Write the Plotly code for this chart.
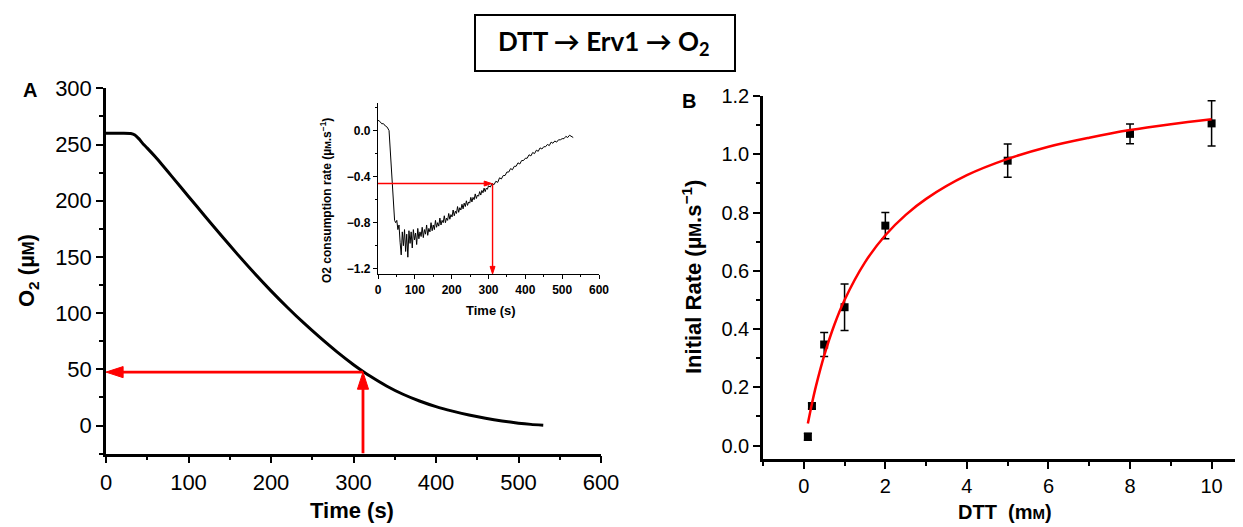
import plotly.graph_objects as go

# The page body has an 8px margin, so the figure is drawn 8px in from the top-left corner.
OFF = 8
W, H = 1243 - OFF, 527 - OFF

# ---------------- Panel A: O2 trace ----------------
time_a = [0, 10, 20, 30, 35, 40, 45, 50, 60, 80, 100, 120, 140, 160, 180, 200, 220, 240,
          260, 280, 300, 312, 320, 340, 360, 380, 400, 420, 440, 460, 480, 500, 515, 530]
o2_a = [260, 260, 260, 259.8, 258.5, 255, 250.5, 246.8, 238.8, 221.4, 203.8, 186.2, 168.8,
        151.8, 135.4, 119.8, 105, 91, 77.9, 65.5, 54.1, 47.9, 44, 35.2, 27.8, 21.8, 16.8,
        12.8, 9.3, 6.4, 4.0, 2.1, 1.0, 0.2]
a_xticks = [0, 100, 200, 300, 400, 500, 600]
a_yticks = [0, 50, 100, 150, 200, 250, 300]
t_mark, o2_mark = 311.5, 47.5

# ---------------- Inset: O2 consumption rate ----------------
time_inset = list(range(0, 46, 5)) + list(range(48, 301, 3)) + list(range(305, 531, 5))
rate_inset = [
    # 0 - 45 s
    0.09, 0.08, 0.06, 0.06, 0.04, 0.03, 0.00, -0.30, -0.55, -0.78,
    # 48 - 300 s
    -0.80, -0.78, -0.86, -0.82, -0.97, -1.08, -0.88, -1.00, -0.86, -1.05,
    -0.90, -1.10, -0.87, -0.98, -0.88, -1.02, -0.86, -0.95, -0.89, -0.99,
    -0.85, -0.94, -0.88, -0.92, -0.84, -0.93, -0.86, -0.90, -0.82, -0.91,
    -0.85, -0.88, -0.80, -0.87, -0.82, -0.86, -0.78, -0.84, -0.80, -0.83,
    -0.76, -0.82, -0.78, -0.80, -0.74, -0.80, -0.76, -0.78, -0.72, -0.77,
    -0.73, -0.75, -0.69, -0.74, -0.70, -0.72, -0.66, -0.71, -0.67, -0.69,
    -0.64, -0.68, -0.63, -0.66, -0.61, -0.65, -0.62, -0.63, -0.58, -0.62,
    -0.58, -0.60, -0.55, -0.59, -0.56, -0.57, -0.53, -0.56, -0.52, -0.54,
    -0.50, -0.53, -0.50, -0.51, -0.48,
    # 305 - 530 s
    -0.49, -0.46, -0.47, -0.44, -0.45, -0.41, -0.42, -0.39, -0.39, -0.36,
    -0.36, -0.33, -0.34, -0.31, -0.31, -0.28, -0.29, -0.26, -0.26, -0.24,
    -0.24, -0.21, -0.22, -0.19, -0.20, -0.17, -0.18, -0.15, -0.16, -0.14,
    -0.14, -0.12, -0.13, -0.10, -0.11, -0.09, -0.10, -0.08, -0.08, -0.07,
    -0.07, -0.05, -0.06, -0.04, -0.05, -0.06]
inset_mark_t, inset_mark_rate = 311, -0.46
inset_ymin = -1.246

# ---------------- Panel B: initial rate vs DTT ----------------
dtt = [0.1, 0.2, 0.5, 1, 2, 5, 8, 10]
rate_b = [0.03, 0.136, 0.347, 0.475, 0.755, 0.978, 1.07, 1.106]
err_b = [0.012, 0.01, 0.041, 0.08, 0.045, 0.057, 0.034, 0.078]
fit_x = [0.1, 0.2, 0.3, 0.5, 0.75, 1, 1.5, 2, 2.5, 3, 4, 5, 6, 7, 8, 9, 10]
fit_y = [0.076, 0.144, 0.205, 0.309, 0.415, 0.500, 0.629, 0.722, 0.792, 0.847, 0.928,
         0.984, 1.026, 1.057, 1.083, 1.103, 1.120]

FONT = "Liberation Sans"

def px_x(p):
    return (p - OFF) / W

def px_y(p):
    return 1 - (p - OFF) / H

fig = go.Figure()

fig.add_trace(go.Scatter(x=time_a, y=o2_a, mode="lines", xaxis="x", yaxis="y",
                         line=dict(color="black", width=3.0, shape="spline", smoothing=0.6),
                         showlegend=False))
fig.add_trace(go.Scatter(x=time_inset, y=rate_inset, mode="lines", xaxis="x2", yaxis="y2",
                         line=dict(color="black", width=1), showlegend=False))
fig.add_trace(go.Scatter(x=dtt, y=rate_b, mode="markers", xaxis="x3", yaxis="y3",
                         marker=dict(symbol="square", size=8, color="black"),
                         error_y=dict(type="data", array=err_b, color="black",
                                      thickness=1.5, width=4),
                         showlegend=False))
fig.add_trace(go.Scatter(x=fit_x, y=fit_y, mode="lines", xaxis="x3", yaxis="y3",
                         line=dict(color="red", width=2.5, shape="spline"),
                         showlegend=False))

# red arrows drawn as line traces with arrow markers at the head
def arrow_trace(xs, ys, xa, ya, width, size):
    return go.Scatter(x=xs, y=ys, mode="lines+markers", xaxis=xa, yaxis=ya,
                      line=dict(color="red", width=width),
                      marker=dict(symbol=["circle", "arrow"], size=[0, size], color="red",
                                  opacity=1, angleref="previous",
                                  line=dict(width=1, color="red")),
                      showlegend=False, hoverinfo="skip")

fig.add_trace(arrow_trace([t_mark, 0], [o2_mark, o2_mark], "x", "y", 2.8, 18))
fig.add_trace(arrow_trace([t_mark, t_mark], [-25, o2_mark], "x", "y", 2.8, 18))
fig.add_trace(arrow_trace([0, inset_mark_t - 2], [inset_mark_rate, inset_mark_rate], "x2", "y2", 1.4, 8))
fig.add_trace(arrow_trace([inset_mark_t, inset_mark_t], [inset_mark_rate, inset_ymin], "x2", "y2", 1.4, 8))

def ax_common(lw=2.5, tl=7, tw=2, fs=22, bold=False):
    return dict(showline=True, linecolor="black", linewidth=lw, showgrid=False,
                zeroline=False, ticks="outside", ticklen=tl, tickwidth=tw,
                tickcolor="black", mirror=False, automargin=False,
                tickfont=dict(family=FONT, size=fs, color="black",
                              weight="bold" if bold else "normal"))

fig.update_layout(
    width=W, height=H, margin=dict(l=0, r=0, t=0, b=0, autoexpand=False),
    paper_bgcolor="white", plot_bgcolor="rgba(0,0,0,0)",
    xaxis=dict(domain=[px_x(106), px_x(601)], range=[0, 600], anchor="y",
               tickvals=a_xticks,
               minor=dict(ticks="outside", ticklen=4, tickwidth=2, dtick=50, tick0=0,
                          tickcolor="black"),
               **ax_common(fs=22)),
    yaxis=dict(domain=[px_y(453.6), px_y(88.3)], range=[-25, 300], anchor="x",
               tickvals=a_yticks,
               minor=dict(ticks="outside", ticklen=4, tickwidth=2, dtick=25, tick0=0,
                          tickcolor="black"),
               **ax_common(fs=22)),
    xaxis2=dict(domain=[px_x(378), px_x(599)], range=[0, 600], anchor="y2",
                tickvals=[0, 100, 200, 300, 400, 500, 600],
                minor=dict(ticks="outside", ticklen=2, tickwidth=1, dtick=50, tick0=0,
                           tickcolor="black"),
                **ax_common(lw=1.3, tl=4, tw=1.3, fs=12, bold=True)),
    yaxis2=dict(domain=[px_y(274), px_y(103)], range=[inset_ymin, 0.24], anchor="x2",
                tickvals=[0.0, -0.4, -0.8, -1.2], tickformat=".1f",
                minor=dict(ticks="outside", ticklen=2, tickwidth=1, dtick=0.2, tick0=0,
                           tickcolor="black"),
                **ax_common(lw=1.3, tl=4, tw=1.3, fs=12, bold=True)),
    xaxis3=dict(domain=[px_x(763), 1.0], range=[-1, 10.77], anchor="y3",
                tickvals=[0, 2, 4, 6, 8, 10],
                minor=dict(ticks="outside", ticklen=4, tickwidth=2, dtick=1, tick0=0,
                           tickcolor="black"),
                **ax_common(fs=20)),
    yaxis3=dict(domain=[px_y(459), px_y(96)], range=[-0.046, 1.2], anchor="x3",
                tickvals=[0, 0.2, 0.4, 0.6, 0.8, 1.0, 1.2], tickformat=".1f",
                minor=dict(ticks="outside", ticklen=4, tickwidth=2, dtick=0.1, tick0=0,
                           tickcolor="black"),
                **ax_common(fs=20)),
)

ann = []

def label(text, x, y, size, angle=0, family=FONT):
    return dict(text=text, x=px_x(x), y=px_y(y), xref="paper", yref="paper",
                showarrow=False, textangle=angle, xanchor="center", yanchor="middle",
                font=dict(family=family, size=size, color="black", weight="bold"))

M_small = "<span style='font-size:75%'>M</span>"
ann.append(label("O<sub>2</sub> (µ" + M_small + ")", 28, 271, 22, angle=-90))
ann.append(label("Time (s)", 352, 510, 22))
ann.append(label("O2 consumption rate (µ" + M_small + ".s<sup>−1</sup>)", 326, 200, 12, angle=-90))
ann.append(label("Time (s)", 491, 310, 13))
ann.append(label("Initial Rate (µ" + M_small + ".s<sup>−1</sup>)", 692, 277, 22, angle=-90))
ann.append(label("DTT  (m" + M_small + ")", 1005, 512, 20))
ann.append(label("A", 30, 90, 20))
ann.append(label("B", 689, 101, 20))
ann.append(label("DTT → Erv1 → O<sub>2</sub>", 604, 43, 26, family="Lato"))

fig.update_layout(annotations=ann)
fig.add_shape(type="rect", xref="paper", yref="paper",
              x0=px_x(475), x1=px_x(735), y0=px_y(71), y1=px_y(15),
              line=dict(color="black", width=2), fillcolor="rgba(0,0,0,0)")

fig.write_html("out.html")
